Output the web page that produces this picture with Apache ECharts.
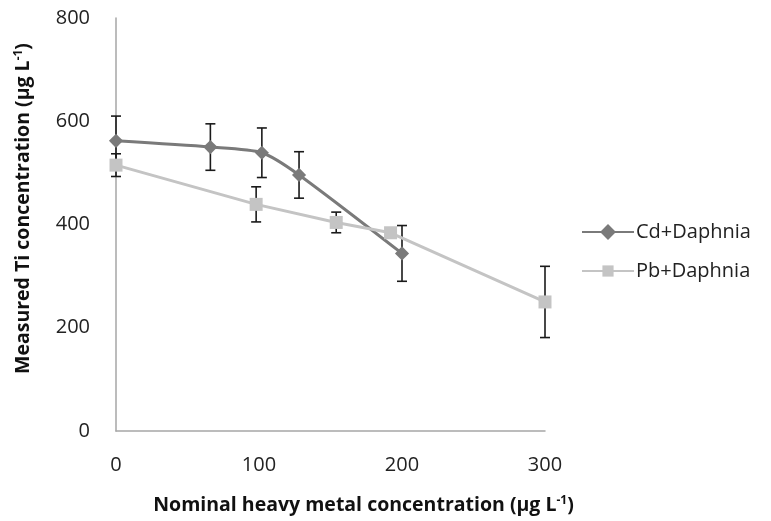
<!DOCTYPE html>
<html>
<head>
<meta charset="utf-8">
<script src="https://cdn.jsdelivr.net/npm/echarts@6/dist/echarts.min.js"></script>
<style>
    html, body { margin: 0; padding: 0; background: #fff; }
    #chart { width: 771px; height: 521px; }
</style>
</head>
<body>
<div id="chart"></div>
<script>
// values
const cdX = [0, 66, 102, 128, 200];
const cdY = [562, 550, 539, 496, 344];
const cdErr = [48, 45, 48, 45, 54];

const pbX = [0, 98, 154, 192, 300];
const pbY = [515, 439, 404, 384, 250];
const pbErr = [22, 34, 20, 0, 69];

const xTicks = [0, 100, 200, 300];
const yTicks = [0, 200, 400, 600, 800];

const FONT = '"Open Sans", "Liberation Sans", sans-serif';

function pairs(xs, ys) {
    return xs.map((x, i) => [x, ys[i]]);
}

function errData(xs, ys, es) {
    return xs.map((x, i) => [x, ys[i] - es[i], ys[i] + es[i]]).filter((d, i) => es[i] > 0);
}

// draws a vertical error bar with caps
function renderErr(params, api) {
    const x = api.value(0);
    const lo = api.coord([x, api.value(1)]);
    const hi = api.coord([x, api.value(2)]);
    const cap = 5;
    const style = { stroke: '#1a1a1a', lineWidth: 1.6 };
    return {
        type: 'group',
        children: [
            { type: 'line', shape: { x1: lo[0], y1: lo[1], x2: hi[0], y2: hi[1] }, style },
            { type: 'line', shape: { x1: hi[0] - cap, y1: hi[1], x2: hi[0] + cap, y2: hi[1] }, style },
            { type: 'line', shape: { x1: lo[0] - cap, y1: lo[1], x2: lo[0] + cap, y2: lo[1] }, style }
        ]
    };
}

const chart = echarts.init(document.getElementById('chart'));

const axisLine = { show: true, lineStyle: { color: '#a6a6a6', width: 1.5 } };

const titleRich = {
    b: { fontSize: 19.5, fontWeight: 'bold', color: '#111', fontFamily: FONT },
    s: { fontSize: 12, fontWeight: 'bold', color: '#111', fontFamily: FONT, verticalAlign: 'top', padding: [0, 0, 9, 0] }
};

chart.setOption({
    animation: false,
    textStyle: { fontFamily: FONT },
    grid: { left: 116, right: 226, top: 18, bottom: 90, outerBoundsMode: 'none', containLabel: false },
    legend: {
        orient: 'vertical',
        left: 576,
        top: 217,
        itemGap: 19,
        itemWidth: 52,
        itemHeight: 14,
        textStyle: { fontSize: 20, color: '#222', fontFamily: FONT, padding: [0, 0, 0, -3] },
        data: ['Cd+Daphnia', 'Pb+Daphnia']
    },
    xAxis: {
        type: 'value',
        min: 0,
        max: 300,
        interval: 100,
        axisLine,
        axisTick: { show: false },
        splitLine: { show: false },
        axisLabel: {
            fontSize: 20,
            color: '#222',
            margin: 24,
            formatter: (v) => xTicks.includes(v) ? String(v) : ''
        },
        name: '{b|Nominal heavy metal concentration (µg L}{s|-1}{b|)}',
        nameLocation: 'middle',
        nameGap: 64,
        nameTextStyle: { rich: titleRich, padding: [0, 0, 0, 66] }
    },
    yAxis: {
        type: 'value',
        min: 0,
        max: 800,
        interval: 200,
        axisLine,
        axisTick: { show: false },
        splitLine: { show: false },
        axisLabel: {
            fontSize: 20,
            color: '#222',
            margin: 26,
            formatter: (v) => yTicks.includes(v) ? String(v) : ''
        },
        name: '{b|Measured Ti concentration (µg L}{s|-1}{b|)}',
        nameLocation: 'middle',
        nameGap: 82,
        nameTextStyle: { rich: titleRich, padding: [0, 0, 0, 32] }
    },
    series: [
        {
            name: 'Cd+Daphnia',
            type: 'line',
            data: pairs(cdX, cdY),
            smooth: 0.25,
            symbol: 'rect',
            symbolSize: 10,
            symbolRotate: 45,
            lineStyle: { color: '#7a7a7a', width: 3 },
            itemStyle: { color: '#7a7a7a' },
            z: 3
        },
        {
            name: 'Pb+Daphnia',
            type: 'line',
            data: pairs(pbX, pbY),
            symbol: 'rect',
            symbolSize: 13,
            lineStyle: { color: '#c4c4c4', width: 3 },
            itemStyle: { color: '#c4c4c4' },
            z: 4
        },
        {
            name: 'cdErr',
            type: 'custom',
            renderItem: renderErr,
            data: errData(cdX, cdY, cdErr),
            encode: { x: 0, y: [1, 2] },
            z: 2
        },
        {
            name: 'pbErr',
            type: 'custom',
            renderItem: renderErr,
            data: errData(pbX, pbY, pbErr),
            encode: { x: 0, y: [1, 2] },
            z: 2
        }
    ]
});
</script>
</body>
</html>
